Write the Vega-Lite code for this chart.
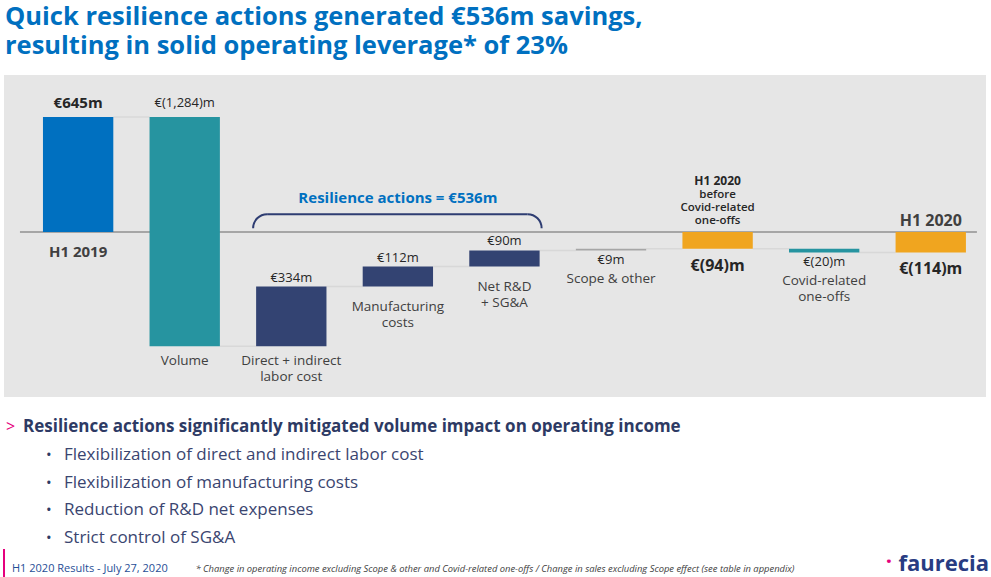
{
  "$schema": "https://vega.github.io/schema/vega-lite/v6.json",
  "background": "white",
  "padding": {"left": 3, "top": 4, "right": 0, "bottom": 0},
  "autosize": {"type": "pad"},
  "spacing": 0,
  "title": {
    "text": ["Quick resilience actions generated €536m savings,", "resulting in solid operating leverage* of 23%"],
    "anchor": "start",
    "frame": "group",
    "font": "Open Sans",
    "fontSize": 25.5,
    "fontWeight": "bold",
    "color": "#0070c0",
    "lineHeight": 29,
    "offset": 16,
    "dx": 1
  },
  "config": {
    "view": {"stroke": null},
    "text": {"font": "Open Sans"}
  },
  "datasets": {
    "steps": [
      {"cat": "H1 2019", "kind": "base", "low": 0, "high": 645, "end": 645, "value": "€645m", "name": "H1 2019"},
      {"cat": "Volume", "kind": "volume", "low": -639, "high": 645, "end": -639, "value": "€(1,284)m", "name": "Volume"},
      {"cat": "Labor", "kind": "resilience", "low": -639, "high": -305, "end": -305, "value": "€334m", "name": "Direct + indirect\nlabor cost"},
      {"cat": "Manufacturing", "kind": "resilience", "low": -305, "high": -193, "end": -193, "value": "€112m", "name": "Manufacturing\ncosts"},
      {"cat": "R&D SG&A", "kind": "resilience", "low": -193, "high": -103, "end": -103, "value": "€90m", "name": "Net R&D\n+ SG&A"},
      {"cat": "Scope", "kind": "scope", "low": -103, "high": -94, "end": -94, "value": "€9m", "name": "Scope & other"},
      {"cat": "H1 2020 pre", "kind": "result", "low": -94, "high": 0, "end": -94, "value": "€(94)m", "name": "H1 2020", "note": "before\nCovid-related\none-offs"},
      {"cat": "Covid", "kind": "covid", "low": -114, "high": -94, "end": -114, "value": "€(20)m", "name": "Covid-related\none-offs"},
      {"cat": "H1 2020", "kind": "result", "low": -114, "high": 0, "end": -114, "value": "€(114)m", "name": "H1 2020"}
    ],
    "bracket": [
      {"from": "Labor", "to": "R&D SG&A", "mid": "Manufacturing", "first": "H1 2019", "last": "H1 2020", "level": 100, "label": "Resilience actions = €536m"}
    ],
    "bullets": [
      {"line": 0, "level": 0, "text": "Resilience actions significantly mitigated volume impact on operating income"},
      {"line": 1, "level": 1, "text": "Flexibilization of direct and indirect labor cost"},
      {"line": 2, "level": 1, "text": "Flexibilization of manufacturing costs"},
      {"line": 3, "level": 1, "text": "Reduction of R&D net expenses"},
      {"line": 4, "level": 1, "text": "Strict control of SG&A"}
    ],
    "footer": [
      {"slot": "left", "text": "H1 2020 Results  -  July 27, 2020"},
      {"slot": "mid", "text": "* Change in operating income excluding Scope & other and Covid-related one-offs / Change in sales excluding Scope effect (see table in appendix)"},
      {"slot": "right", "text": "faurecia"}
    ]
  },
  "vconcat": [
    {
      "width": 982,
      "height": 322,
      "view": {"fill": "#e6e6e6", "stroke": null},
      "data": {"name": "steps"},
      "encoding": {
        "x": {
          "field": "cat",
          "type": "nominal",
          "axis": null,
          "scale": {
            "domain": ["H1 2019", "Volume", "Labor", "Manufacturing", "R&D SG&A", "Scope", "H1 2020 pre", "Covid", "H1 2020"],
            "paddingInner": 0.34,
            "paddingOuter": 0.277,
            "align": 0.66
          }
        }
      },
      "layer": [
        {
          "data": {"name": "bracket"},
          "mark": {"type": "rule", "color": "#a6a6a6", "strokeWidth": 2, "xOffset": -23, "x2Offset": 11},
          "encoding": {
            "x": {"field": "first", "type": "nominal", "bandPosition": 0},
            "x2": {"field": "last", "bandPosition": 1},
            "y": {"datum": 0, "type": "quantitative", "axis": null, "scale": {"domain": [-924, 880], "nice": false, "zero": false}}
          }
        },
        {
          "transform": [
            {"window": [{"op": "lead", "field": "cat", "as": "next"}]},
            {"filter": "datum.next != null"}
          ],
          "mark": {"type": "rule", "color": "#d8d8d8", "strokeWidth": 1.5},
          "encoding": {
            "x": {"field": "cat", "type": "nominal", "bandPosition": 1},
            "x2": {"field": "next", "bandPosition": 0},
            "y": {"field": "end", "type": "quantitative"}
          }
        },
        {
          "mark": {"type": "bar"},
          "encoding": {
            "y": {"field": "low", "type": "quantitative"},
            "y2": {"field": "high"},
            "color": {
              "field": "kind",
              "type": "nominal",
              "legend": null,
              "scale": {
                "domain": ["base", "volume", "resilience", "scope", "result", "covid"],
                "range": ["#0070c0", "#2694a0", "#334372", "#a6a6a6", "#f0a51f", "#2694a0"]
              }
            }
          }
        },
        {
          "transform": [{"filter": "datum.cat == 'H1 2019'"}],
          "mark": {"type": "text", "fontSize": 15, "fontWeight": "bold", "color": "#262626", "baseline": "middle", "dy": -14},
          "encoding": {"y": {"field": "high", "type": "quantitative"}, "text": {"field": "value"}}
        },
        {
          "transform": [{"filter": "datum.cat == 'H1 2019'"}],
          "mark": {"type": "text", "fontSize": 15, "fontWeight": "bold", "color": "#404040", "baseline": "middle", "dy": 20},
          "encoding": {"y": {"field": "low", "type": "quantitative"}, "text": {"field": "name"}}
        },
        {
          "transform": [{"filter": "datum.cat == 'Volume'"}],
          "mark": {"type": "text", "fontSize": 13, "color": "#262626", "baseline": "middle", "dy": -14},
          "encoding": {"y": {"field": "high", "type": "quantitative"}, "text": {"field": "value"}}
        },
        {
          "transform": [{"filter": "datum.kind == 'resilience'"}],
          "mark": {"type": "text", "fontSize": 13, "color": "#262626", "baseline": "middle", "dy": -9},
          "encoding": {"y": {"field": "high", "type": "quantitative"}, "text": {"field": "value"}}
        },
        {
          "transform": [{"filter": "datum.cat == 'Volume' || datum.cat == 'Labor'"}],
          "mark": {"type": "text", "fontSize": 13.5, "color": "#404040", "baseline": "top", "lineBreak": "\n", "lineHeight": 16, "dy": 8},
          "encoding": {"y": {"field": "low", "type": "quantitative"}, "text": {"field": "name"}}
        },
        {
          "transform": [{"filter": "datum.cat == 'Manufacturing' || datum.cat == 'R&D SG&A'"}],
          "mark": {"type": "text", "fontSize": 13.5, "color": "#404040", "baseline": "top", "lineBreak": "\n", "lineHeight": 16, "dy": 13},
          "encoding": {"y": {"field": "low", "type": "quantitative"}, "text": {"field": "name"}}
        },
        {
          "transform": [{"filter": "datum.cat == 'Scope' || datum.cat == 'Covid'"}],
          "mark": {"type": "text", "fontSize": 13, "color": "#262626", "baseline": "middle", "dy": 10},
          "encoding": {"y": {"field": "low", "type": "quantitative"}, "text": {"field": "value"}}
        },
        {
          "transform": [{"filter": "datum.cat == 'Scope' || datum.cat == 'Covid'"}],
          "mark": {"type": "text", "fontSize": 13.5, "color": "#404040", "baseline": "top", "lineBreak": "\n", "lineHeight": 16, "dy": 22},
          "encoding": {"y": {"field": "low", "type": "quantitative"}, "text": {"field": "name"}}
        },
        {
          "transform": [{"filter": "datum.kind == 'result'"}],
          "mark": {"type": "text", "fontSize": 16, "fontWeight": "bold", "color": "#262626", "baseline": "middle", "dy": 17},
          "encoding": {"y": {"field": "low", "type": "quantitative"}, "text": {"field": "value"}}
        },
        {
          "transform": [{"filter": "datum.cat == 'H1 2020'"}],
          "mark": {"type": "text", "fontSize": 16, "fontWeight": "bold", "color": "#404040", "baseline": "middle", "dy": -11},
          "encoding": {"y": {"field": "high", "type": "quantitative"}, "text": {"field": "name"}}
        },
        {
          "transform": [{"filter": "datum.cat == 'H1 2020 pre'"}],
          "mark": {"type": "text", "fontSize": 12, "fontWeight": "bold", "color": "#262626", "baseline": "middle", "dy": -51},
          "encoding": {"y": {"field": "high", "type": "quantitative"}, "text": {"field": "name"}}
        },
        {
          "transform": [{"filter": "datum.cat == 'H1 2020 pre'"}],
          "mark": {"type": "text", "fontSize": 11.5, "fontWeight": 600, "color": "#262626", "baseline": "top", "lineBreak": "\n", "lineHeight": 13, "dy": -43},
          "encoding": {"y": {"field": "high", "type": "quantitative"}, "text": {"field": "note"}}
        },
        {
          "data": {"name": "bracket"},
          "mark": {"type": "rule", "color": "#2e3d72", "strokeWidth": 2, "xOffset": 11, "x2Offset": -12},
          "encoding": {
            "x": {"field": "from", "type": "nominal", "bandPosition": 0},
            "x2": {"field": "to", "bandPosition": 1},
            "y": {"field": "level", "type": "quantitative"}
          }
        },
        {
          "data": {"name": "bracket"},
          "mark": {"type": "arc", "color": "#2e3d72", "radius": 15, "radius2": 13, "theta": -1.5708, "theta2": 0, "xOffset": 11, "yOffset": 14},
          "encoding": {
            "x": {"field": "from", "type": "nominal", "bandPosition": 0},
            "y": {"field": "level", "type": "quantitative"}
          }
        },
        {
          "data": {"name": "bracket"},
          "mark": {"type": "arc", "color": "#2e3d72", "radius": 15, "radius2": 13, "theta": 0, "theta2": 1.5708, "xOffset": -12, "yOffset": 14},
          "encoding": {
            "x": {"field": "to", "type": "nominal", "bandPosition": 1},
            "y": {"field": "level", "type": "quantitative"}
          }
        },
        {
          "data": {"name": "bracket"},
          "mark": {"type": "text", "fontSize": 15, "fontWeight": "bold", "color": "#0070c0", "baseline": "middle", "dy": -16},
          "encoding": {
            "x": {"field": "mid", "type": "nominal"},
            "y": {"field": "level", "type": "quantitative"},
            "text": {"field": "label"}
          }
        }
      ]
    },
    {
      "width": 982,
      "height": 151,
      "data": {"name": "bullets"},
      "encoding": {
        "x": {"field": "level", "type": "quantitative", "axis": null, "scale": {"domain": [0, 1], "range": [19, 60]}},
        "y": {"field": "line", "type": "quantitative", "axis": null, "scale": {"domain": [0, 4], "range": [30, 141]}}
      },
      "layer": [
        {
          "transform": [{"filter": "datum.level == 0"}],
          "mark": {"type": "text", "text": ">", "fontSize": 16, "color": "#e5007d", "align": "left", "baseline": "middle", "dx": -17}
        },
        {
          "transform": [{"filter": "datum.level == 0"}],
          "mark": {"type": "text", "fontSize": 17, "fontWeight": "bold", "color": "#2d3a64", "align": "left", "baseline": "middle"},
          "encoding": {"text": {"field": "text"}}
        },
        {
          "transform": [{"filter": "datum.level == 1"}],
          "mark": {"type": "text", "text": "•", "fontSize": 15, "color": "#2d3a64", "align": "left", "baseline": "middle", "dx": -18}
        },
        {
          "transform": [{"filter": "datum.level == 1"}],
          "mark": {"type": "text", "fontSize": 17, "color": "#3a4570", "align": "left", "baseline": "middle"},
          "encoding": {"text": {"field": "text"}}
        }
      ]
    },
    {
      "width": 982,
      "height": 29,
      "data": {"name": "footer"},
      "encoding": {
        "x": {"field": "slot", "type": "nominal", "axis": null, "scale": {"type": "point", "domain": ["left", "mid", "right"], "padding": 0}}
      },
      "layer": [
        {
          "transform": [{"filter": "datum.slot == 'left'"}],
          "mark": {"type": "rule", "color": "#e5007d", "strokeWidth": 2}
        },
        {
          "transform": [{"filter": "datum.slot == 'left'"}],
          "mark": {"type": "text", "fontSize": 11, "color": "#1f4e96", "align": "left", "baseline": "middle", "dx": 8, "dy": 5},
          "encoding": {"text": {"field": "text"}}
        },
        {
          "transform": [{"filter": "datum.slot == 'mid'"}],
          "mark": {"type": "text", "fontSize": 9.4, "fontStyle": "italic", "color": "#404040", "align": "center", "baseline": "middle", "dy": 5},
          "encoding": {"text": {"field": "text"}}
        },
        {
          "transform": [{"filter": "datum.slot == 'right'"}],
          "mark": {"type": "text", "fontSize": 22, "fontWeight": "bold", "color": "#283c82", "align": "right", "baseline": "middle", "dx": 3, "dy": 0},
          "encoding": {"text": {"field": "text"}}
        },
        {
          "transform": [{"filter": "datum.slot == 'right'"}],
          "mark": {"type": "text", "text": "·", "fontSize": 22, "fontWeight": "bold", "color": "#e5007d", "align": "right", "baseline": "middle", "dx": -94, "dy": -2}
        }
      ]
    }
  ]
}
